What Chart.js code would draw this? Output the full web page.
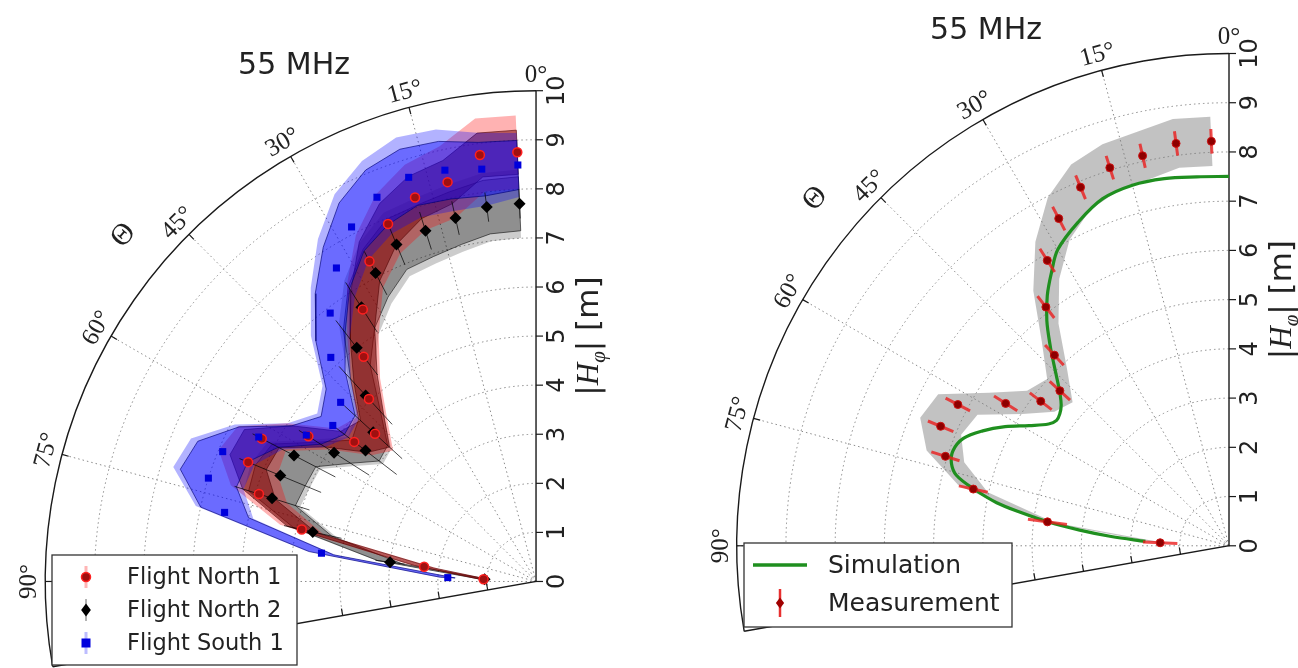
<!DOCTYPE html>
<html>
<head>
<meta charset="utf-8">
<script src="https://cdn.jsdelivr.net/npm/chart.js@4.4.0/dist/chart.umd.min.js"></script>
<style>
  html, body { margin: 0; padding: 0; background: #fff; }
  #wrap { position: relative; width: 1298px; height: 668px; overflow: hidden; }
  canvas { position: absolute; top: 0; }
  #left { left: 0; }
  #right { left: 650px; }
</style>
</head>
<body>
<div id="wrap">
  <canvas id="left" width="650" height="668"></canvas>
  <canvas id="right" width="648" height="668"></canvas>
</div>
<script>
// zenith angle bins (deg) shared by all measured series
const thetaBins = [2.5, 7.5, 12.5, 17.5, 22.5, 27.5, 32.5, 37.5, 42.5, 47.5, 52.5, 57.5, 62.5, 67.5, 72.5, 77.5, 82.5, 87.5];

// left panel: three flights, |H_phi| in m, inner / outer band half widths
const north1R     = [8.75, 8.76, 8.33, 8.20, 7.88, 7.35, 6.57, 5.77, 5.04, 4.45, 4.67, 5.50, 6.30, 6.35, 5.92, 4.89, 2.30, 1.07];
const north1Inner = [0.45, 0.45, 0.45, 0.45, 0.45, 0.45, 0.45, 0.45, 0.45, 0.40, 0.35, 0.40, 0.40, 0.40, 0.35, 0.30, 0.20, 0.10];
const north1Outer = [0.75, 0.75, 0.75, 0.70, 0.65, 0.60, 0.60, 0.55, 0.55, 0.50, 0.45, 0.50, 0.55, 0.65, 0.60, 0.45, 0.30, 0.15];

const north2R     = [7.70, 7.69, 7.58, 7.49, 7.43, 7.08, 6.62, 6.00, 5.14, 4.50, 4.38, 4.88, 5.56, 5.64, 5.64, 4.66, 3.00, 1.05];
const north2Inner = [0.55, 0.55, 0.55, 0.55, 0.55, 0.55, 0.50, 0.45, 0.45, 0.40, 0.35, 0.40, 0.50, 0.55, 0.50, 0.40, 0.25, 0.10];
const north2Outer = [0.70, 0.70, 0.70, 0.70, 0.70, 0.70, 0.65, 0.60, 0.55, 0.50, 0.45, 0.50, 0.60, 0.65, 0.60, 0.50, 0.30, 0.15];
const north2Err   = [0.30, 0.30, 0.35, 0.40, 0.45, 0.50, 0.60, 0.70, 0.80, 0.80, 0.80, 0.85, 0.95, 0.90, 0.80, 0.60, 0.30, 0.10];

const south1R     = [8.49, 8.47, 8.58, 8.63, 8.47, 8.14, 7.57, 6.89, 6.19, 5.40, 5.22, 5.55, 6.37, 6.91, 7.00, 6.50, 4.41, 1.80];
const south1Inner = [0.50, 0.55, 0.60, 0.60, 0.60, 0.55, 0.50, 0.50, 0.45, 0.40, 0.30, 0.35, 0.45, 0.55, 0.60, 0.50, 0.25, 0.15];
const south1Outer = [0.65, 0.75, 0.85, 0.85, 0.80, 0.75, 0.70, 0.65, 0.60, 0.50, 0.40, 0.45, 0.55, 0.70, 0.75, 0.60, 0.30, 0.20];

// right panel: measurement vs simulation
const measR    = [8.22, 8.24, 8.11, 8.05, 7.88, 7.49, 6.87, 6.11, 5.25, 4.66, 4.82, 5.38, 6.21, 6.34, 6.04, 5.32, 3.72, 1.40];
const measErr  = [0.25, 0.25, 0.25, 0.25, 0.26, 0.27, 0.28, 0.28, 0.28, 0.28, 0.28, 0.28, 0.28, 0.28, 0.30, 0.30, 0.40, 0.35];
const measBand = [0.50, 0.50, 0.50, 0.50, 0.50, 0.48, 0.45, 0.42, 0.38, 0.35, 0.35, 0.40, 0.45, 0.45, 0.40, 0.30, 0.15, 0.10];

const simTheta = [0, 5, 10, 15, 20, 25, 30, 33, 36, 39, 42, 44, 46, 48, 50, 52, 54, 56, 59, 62, 65, 68, 71, 73.5, 75.5, 77.5, 79.5, 81, 82.5, 84, 85.5, 87];
const simR     = [7.50, 7.52, 7.57, 7.58, 7.50, 7.25, 6.95, 6.62, 6.28, 5.88, 5.42, 5.12, 4.85, 4.62, 4.45, 4.36, 4.33, 4.42, 4.74, 5.15, 5.52, 5.82, 5.93, 5.88, 5.72, 5.30, 4.80, 4.25, 3.70, 3.05, 2.40, 1.70];

// axes
const rTicks = [0, 1, 2, 3, 4, 5, 6, 7, 8, 9, 10];
const thetaTicks = [0, 15, 30, 45, 60, 75, 90];
const thetaMax = 100;
const rMax = 10;

const DEG = Math.PI / 180;
const INK = "#222";

// polar -> cartesian data space (0 deg straight up, angle grows to the left)
function pol(theta, r) {
  return { x: -r * Math.sin(theta * DEG), y: r * Math.cos(theta * DEG) };
}
function markers(theta, r) {
  return theta.map((t, i) => pol(t, r[i]));
}
function bandShape(theta, r, err) {
  const upper = theta.map((t, i) => pol(t, r[i] + err[i]));
  const lower = theta.map((t, i) => pol(t, r[i] - err[i])).reverse();
  return upper.concat(lower, [upper[0]]);
}
function errorBars(theta, r, err) {
  const out = [];
  theta.forEach((t, i) => {
    out.push(pol(t, r[i] - err[i]), pol(t, r[i] + err[i]), { x: null, y: null });
  });
  return out;
}

function band(data, fillColor, edgeColor, order) {
  return {
    data, order, showLine: true, fill: "shape", tension: 0,
    backgroundColor: fillColor, borderColor: edgeColor || "rgba(0,0,0,0)",
    borderWidth: edgeColor ? 1 : 0, pointRadius: 0,
  };
}

function geomOf(chart) {
  const sx = chart.scales.x, sy = chart.scales.y;
  const cx = sx.getPixelForValue(0), cy = sy.getPixelForValue(0);
  const u = sx.getPixelForValue(1) - cx;
  const P = (t, r) => [cx - r * u * Math.sin(t * DEG), cy - r * u * Math.cos(t * DEG)];
  return { cx, cy, u, P };
}

function drawHLabel(ctx, x, y, size) {
  ctx.save();
  ctx.translate(x, y);
  ctx.rotate(-Math.PI / 2);
  const parts = [
    { t: "|", f: size + "px 'DejaVu Sans'", dy: 0 },
    { t: "H", f: "italic " + size + "px 'Liberation Serif'", dy: 0 },
    { t: "\u03c6", f: "italic " + Math.round(size * 0.68) + "px 'Liberation Serif'", dy: size * 0.22 },
    { t: "| [m]", f: size + "px 'DejaVu Sans'", dy: 0 },
  ];
  let total = 0;
  parts.forEach((p) => { ctx.font = p.f; p.w = ctx.measureText(p.t).width; total += p.w; });
  let px = -total / 2;
  ctx.textAlign = "left";
  ctx.textBaseline = "alphabetic";
  ctx.fillStyle = INK;
  parts.forEach((p) => { ctx.font = p.f; ctx.fillText(p.t, px, size * 0.36 + p.dy); px += p.w; });
  ctx.restore();
}

function polarFrame(opt) {
  return {
    id: "polarFrame",
    beforeDatasetsDraw(chart) {
      const g = geomOf(chart);
      const ctx = chart.ctx;
      const a0 = -Math.PI / 2 - thetaMax * DEG, a1 = -Math.PI / 2;
      ctx.save();
      // dotted grid
      ctx.strokeStyle = "#8a8a8a";
      ctx.lineWidth = 1;
      ctx.setLineDash([1.5, 3]);
      rTicks.forEach((r) => {
        if (r <= 0 || r >= rMax) return;
        ctx.beginPath();
        ctx.arc(g.cx, g.cy, r * g.u, a0, a1);
        ctx.stroke();
      });
      thetaTicks.forEach((t) => {
        if (t <= 0) return;
        const [x, y] = g.P(t, rMax);
        ctx.beginPath();
        ctx.moveTo(g.cx, g.cy);
        ctx.lineTo(x, y);
        ctx.stroke();
      });
      ctx.setLineDash([]);
      // frame
      ctx.strokeStyle = "#1a1a1a";
      ctx.lineWidth = 1.4;
      ctx.beginPath();
      ctx.arc(g.cx, g.cy, rMax * g.u, a0, a1);
      ctx.stroke();
      const [ex, ey] = g.P(thetaMax, rMax);
      ctx.beginPath();
      ctx.moveTo(g.cx, g.cy - rMax * g.u);
      ctx.lineTo(g.cx, g.cy);
      ctx.lineTo(ex, ey);
      ctx.stroke();
      // ticks on the radial axes
      ctx.lineWidth = 1.2;
      const nx = Math.cos(thetaMax * DEG), ny = -Math.sin(thetaMax * DEG);
      rTicks.forEach((r) => {
        const y = g.cy - r * g.u;
        ctx.beginPath();
        ctx.moveTo(g.cx, y);
        ctx.lineTo(g.cx + 7, y);
        ctx.stroke();
        if (r > 0 && r < rMax) {
          const [bx, by] = g.P(thetaMax, r);
          ctx.beginPath();
          ctx.moveTo(bx, by);
          ctx.lineTo(bx + nx * 7, by + ny * 7);
          ctx.stroke();
        }
      });
      // ticks on the outer arc
      thetaTicks.forEach((t) => {
        if (t <= 0) return;
        const [x1, y1] = g.P(t, rMax);
        const [x2, y2] = g.P(t, rMax - 0.14);
        ctx.beginPath();
        ctx.moveTo(x1, y1);
        ctx.lineTo(x2, y2);
        ctx.stroke();
      });
      ctx.restore();
    },
    afterDatasetsDraw(chart) {
      const g = geomOf(chart);
      const ctx = chart.ctx;
      ctx.save();
      ctx.fillStyle = INK;
      ctx.textAlign = "center";
      ctx.textBaseline = "middle";
      // radial tick labels
      ctx.font = "24px 'DejaVu Sans'";
      rTicks.forEach((r) => {
        ctx.save();
        ctx.translate(g.cx + 21, g.cy - r * g.u);
        ctx.rotate(-Math.PI / 2);
        ctx.fillText(String(r), 0, 1);
        ctx.restore();
      });
      // angular labels
      ctx.font = "25px 'Liberation Serif'";
      thetaTicks.forEach((t) => {
        const [x, y] = g.P(t, 10.32);
        ctx.save();
        ctx.translate(x, y);
        ctx.rotate(-t * DEG);
        ctx.fillText(t + "\u00b0", 0, 0);
        ctx.restore();
      });
      const [tx, ty] = g.P(50, 10.97);
      ctx.save();
      ctx.translate(tx, ty);
      ctx.rotate(-50 * DEG);
      ctx.font = "30px 'Liberation Serif'";
      ctx.fillText("\u0398", 0, 0);
      ctx.restore();
      // title
      ctx.font = "30px 'DejaVu Sans'";
      ctx.fillText(opt.title, opt.titleX, opt.titleY);
      // axis label
      drawHLabel(ctx, g.cx + 51, g.cy - 5 * g.u, 31);
      // legend
      const L = opt.legend;
      ctx.fillStyle = "#fff";
      ctx.fillRect(L.x, L.y, L.w, L.h);
      ctx.strokeStyle = "#333";
      ctx.lineWidth = 1.3;
      ctx.strokeRect(L.x, L.y, L.w, L.h);
      ctx.font = L.font;
      ctx.textAlign = "left";
      L.rows.forEach((row) => {
        row.mark(ctx, L.markX, row.y);
        ctx.fillStyle = INK;
        ctx.fillText(row.label, L.textX, row.y + 1);
      });
      ctx.restore();
    },
  };
}

function vbar(ctx, x, y, half, color, width) {
  ctx.strokeStyle = color;
  ctx.lineWidth = width;
  ctx.beginPath();
  ctx.moveTo(x, y - half);
  ctx.lineTo(x, y + half);
  ctx.stroke();
}
function diamond(ctx, x, y, s, fill) {
  ctx.fillStyle = fill;
  ctx.beginPath();
  ctx.moveTo(x, y - s); ctx.lineTo(x + s * 0.75, y); ctx.lineTo(x, y + s); ctx.lineTo(x - s * 0.75, y);
  ctx.closePath();
  ctx.fill();
}

function makeChart(id, panel, datasets, frame) {
  const c = document.getElementById(id);
  const W = c.width, H = c.height;
  return new Chart(c, {
    type: "scatter",
    data: { datasets },
    options: {
      responsive: false,
      animation: false,
      devicePixelRatio: 1,
      events: [],
      layout: { padding: 0 },
      plugins: { legend: { display: false }, tooltip: { enabled: false } },
      scales: {
        x: { type: "linear", display: false, min: -panel.cx / panel.unit, max: (W - panel.cx) / panel.unit },
        y: { type: "linear", display: false, min: -(H - panel.cy) / panel.unit, max: panel.cy / panel.unit },
      },
    },
    plugins: [frame],
  });
}

// ---- left panel ----
makeChart("left", { cx: 540, cy: 586, unit: 50 }, [
  band(bandShape(thetaBins, north2R, north2Outer), "rgba(0,0,0,0.2)", null, 20),
  band(bandShape(thetaBins, north2R, north2Inner), "rgba(0,0,0,0.3)", "rgba(0,0,0,0.55)", 19),
  band(bandShape(thetaBins, north1R, north1Outer), "rgba(255,0,0,0.3)", null, 18),
  band(bandShape(thetaBins, north1R, north1Inner), "rgba(115,0,0,0.5)", "rgba(80,0,0,0.6)", 17),
  band(bandShape(thetaBins, south1R, south1Outer), "rgba(0,0,255,0.3)", null, 16),
  band(bandShape(thetaBins, south1R, south1Inner), "rgba(0,0,255,0.4)", "rgba(0,0,120,0.65)", 15),
  {
    data: errorBars(thetaBins, north2R, north2Err), order: 5, showLine: true, spanGaps: false,
    borderColor: "rgba(0,0,0,0.7)", borderWidth: 1, pointRadius: 0,
  },
  {
    data: markers(thetaBins, north2R), order: 4, pointStyle: "rectRot", pointRadius: 6,
    backgroundColor: "#000", borderColor: "#000", borderWidth: 0,
  },
  {
    data: markers(thetaBins, north1R), order: 3, pointStyle: "circle", pointRadius: 4.5,
    backgroundColor: "#a01010", borderColor: "#ff2020", borderWidth: 1.5,
  },
  {
    data: markers(thetaBins, south1R), order: 2, pointStyle: "rect", pointRadius: 5,
    backgroundColor: "#0000dd", borderColor: "#0000dd", borderWidth: 0,
  },
], polarFrame({
  title: "55 MHz", titleX: 294, titleY: 66,
  legend: {
    x: 52, y: 555, w: 245, h: 110, markX: 86, textX: 127, font: "22.5px 'DejaVu Sans'",
    rows: [
      { label: "Flight North 1", y: 577, mark(ctx, x, y) {
        vbar(ctx, x, y, 11, "rgba(255,90,90,0.45)", 3);
        ctx.fillStyle = "#a01010"; ctx.strokeStyle = "#ff2020"; ctx.lineWidth = 1.5;
        ctx.beginPath(); ctx.arc(x, y, 4.5, 0, 2 * Math.PI); ctx.fill(); ctx.stroke();
      } },
      { label: "Flight North 2", y: 610, mark(ctx, x, y) {
        vbar(ctx, x, y, 11, "rgba(0,0,0,0.6)", 1);
        diamond(ctx, x, y, 6.5, "#000");
      } },
      { label: "Flight South 1", y: 643, mark(ctx, x, y) {
        vbar(ctx, x, y, 11, "rgba(90,90,255,0.4)", 3);
        ctx.fillStyle = "#0000dd"; ctx.fillRect(x - 4.5, y - 4.5, 9, 9);
      } },
    ],
  },
}));

// ---- right panel ----
makeChart("right", { cx: 583, cy: 549, unit: 50 }, [
  band(bandShape(thetaBins, measR, measBand), "rgba(120,120,120,0.45)", null, 10),
  {
    data: simTheta.map((t, i) => pol(t, simR[i])), order: 4, showLine: true, tension: 0.35,
    borderColor: "#1f8f1f", borderWidth: 3.2, pointRadius: 0,
  },
  {
    data: errorBars(thetaBins, measR, measErr), order: 3, showLine: true, spanGaps: false,
    borderColor: "rgba(235,30,30,0.8)", borderWidth: 3, pointRadius: 0,
  },
  {
    data: markers(thetaBins, measR), order: 2, pointStyle: "circle", pointRadius: 4,
    backgroundColor: "#8e0000", borderColor: "#cc1010", borderWidth: 1,
  },
], polarFrame({
  title: "55 MHz", titleX: 336, titleY: 31,
  legend: {
    x: 94, y: 543, w: 268, h: 84, markX: 130, textX: 178, font: "25px 'DejaVu Sans'",
    rows: [
      { label: "Simulation", y: 565, mark(ctx, x, y) {
        ctx.strokeStyle = "#1f8f1f"; ctx.lineWidth = 3.5;
        ctx.beginPath(); ctx.moveTo(x - 27, y); ctx.lineTo(x + 27, y); ctx.stroke();
      } },
      { label: "Measurement", y: 603, mark(ctx, x, y) {
        vbar(ctx, x, y, 14, "#e83030", 2.5);
        diamond(ctx, x, y, 5.5, "#a00000");
      } },
    ],
  },
}));
</script>
</body>
</html>
